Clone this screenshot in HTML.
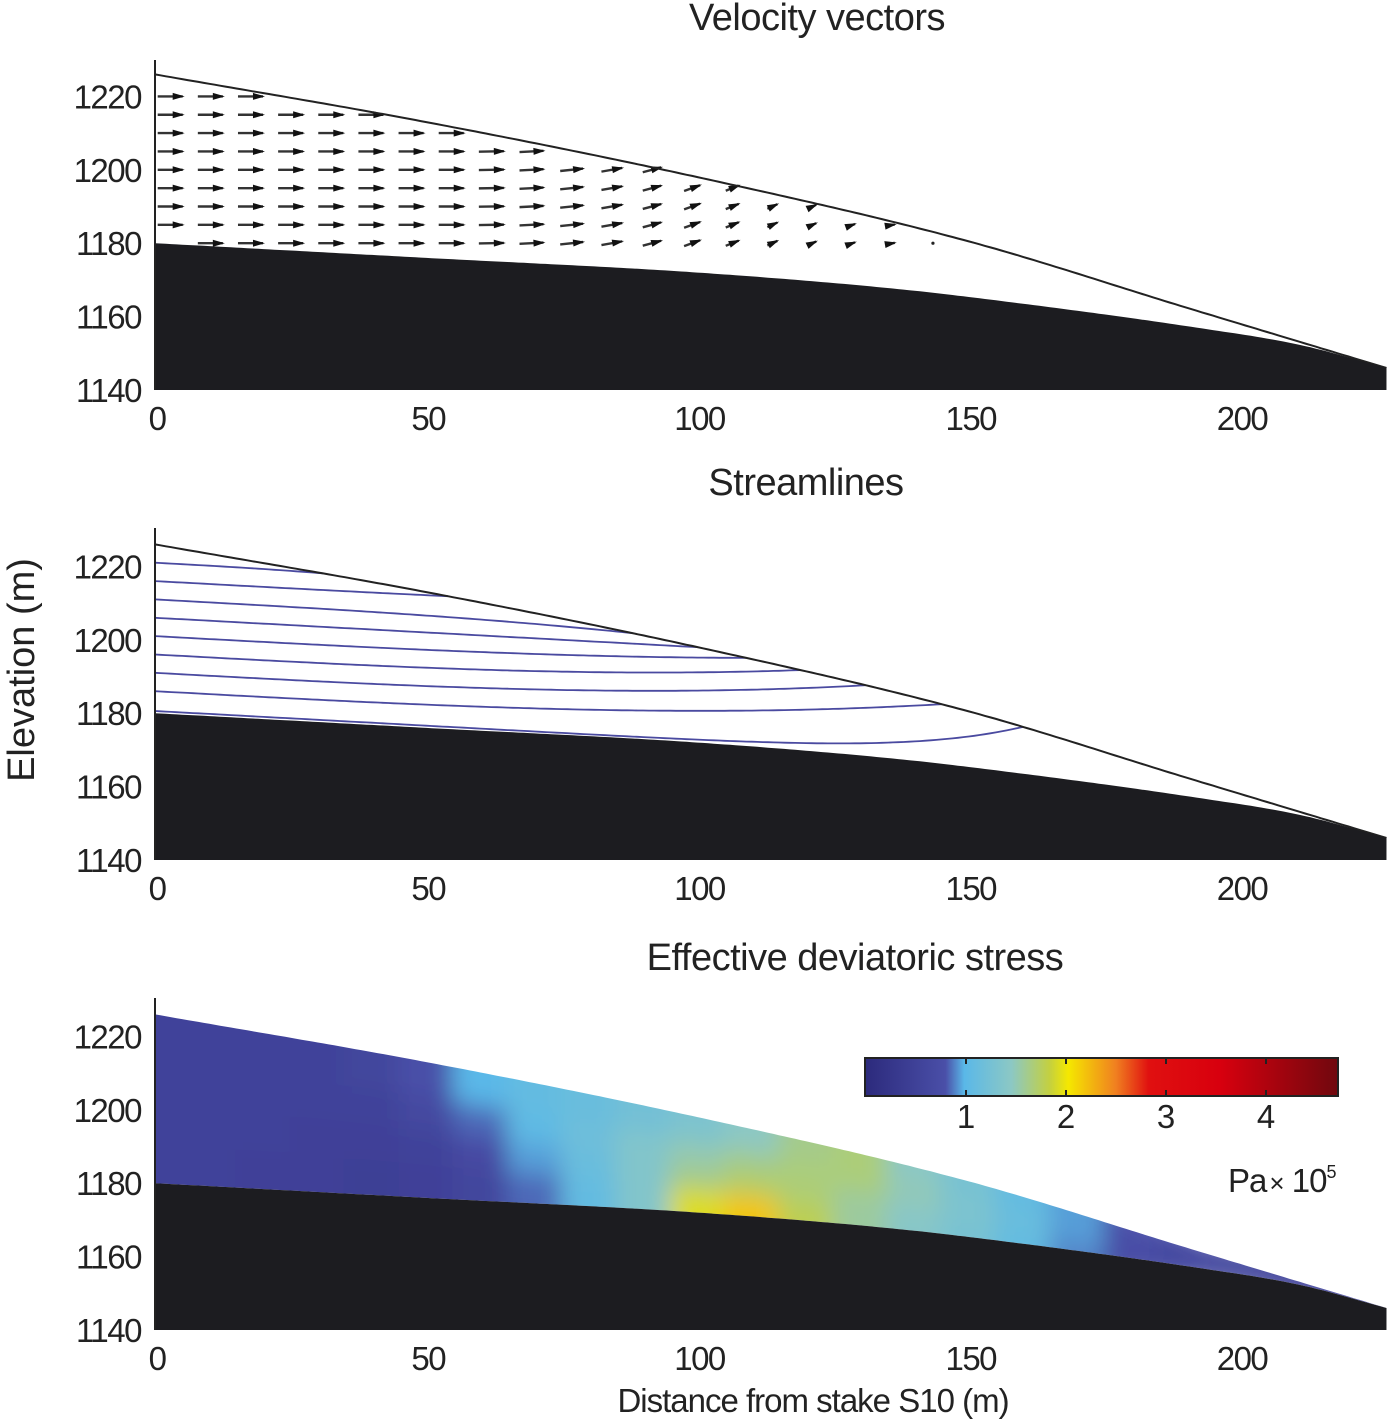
<!DOCTYPE html>
<html><head><meta charset="utf-8"><style>
body{margin:0;background:#fff}
svg text{font-family:"Liberation Sans",sans-serif;fill:#222}
</style></head><body>
<svg id="fig" width="1400" height="1421" viewBox="0 0 1400 1421" xmlns="http://www.w3.org/2000/svg">
<defs>
<filter id="blur" x="-5%" y="-30%" width="110%" height="160%"><feGaussianBlur stdDeviation="12"/></filter>
<linearGradient id="cbar" x1="0" x2="1" y1="0" y2="0">
<stop offset="0" stop-color="#2c2a7c"/><stop offset="0.17" stop-color="#4a4fa8"/><stop offset="0.21" stop-color="#5ab8e8"/>
<stop offset="0.31" stop-color="#8cc8c4"/><stop offset="0.39" stop-color="#c4d040"/><stop offset="0.43" stop-color="#f5e800"/>
<stop offset="0.53" stop-color="#f08020"/><stop offset="0.6" stop-color="#e01010"/><stop offset="0.75" stop-color="#d8000e"/>
<stop offset="1" stop-color="#70080e"/></linearGradient>
</defs>
<g id="root"></g>
</svg>
<script>
const surfX=[0,50,100,150,190,227];
const surfE=[1226,1213,1198,1180.5,1162.5,1146];
const bedX=[0,50,100,137,160,192,211,227];
const bedE=[1180,1176,1172,1167.5,1163.5,1157,1152.3,1146];
const xTicks=[0,50,100,150,200];
const yTicks=[1140,1160,1180,1200,1220];
// velocity vectors: column positions (m), arrow length (px), tilt (deg)
const vecColX=[2.8,10.2,17.6,25,32.4,39.8,47.2,54.6,62,69.4,76.8,84.2,91.6,99,106.4,113.8,121.2,128.6,136,143.4,150.8,158.2,165.6,173,180.4];
const vecLen=[25,25,25,25,25,25,25,25,25,24,23,21,19,17,14,11,8,5,4,3,3,2,2,2,1];
const vecTilt=[0,0,0,0,0,0,0,0,1,3,6,10,15,20,22,25,25,20,10,0,0,0,0,0,0];
const vecRowE=[1180,1185,1190,1195,1200,1205,1210,1215,1220,1225];
// streamlines: start elevation, exit x on surface
const streamStart=[1221,1216,1211,1206,1201,1196,1191,1186,1180.6];
const streamExit=[31,54,88,100,109,119,131,145,160];
// stress field (Pa x 1e5): columns and rows bed->surface
const stressX=[0,10,20,30,40,50,60,70,80,90,100,110,120,130,140,150,160,170,180,190,200,210,220,230,240];
const stressR0=[.55,.55,.5,.5,.45,.5,.6,.85,1.1,1.4,1.95,2.2,1.8,1.6,1.45,1.3,1.1,.9,.75,.65,.6,.55,.55,.55,.55];
const stressR1=[.55,.55,.55,.5,.5,.55,.7,.95,1.15,1.4,1.65,1.75,1.7,1.6,1.5,1.35,1.15,.95,.75,.65,.6,.55,.55,.55,.55];
const stressR2=[.55,.55,.55,.55,.55,.65,.85,1.05,1.2,1.4,1.55,1.65,1.7,1.7,1.55,1.35,1.15,.95,.8,.65,.6,.55,.55,.55,.55];
const stressR3=[.55,.55,.55,.55,.6,.8,1.0,1.1,1.15,1.25,1.35,1.5,1.65,1.7,1.5,1.3,1.1,.95,.8,.65,.6,.55,.55,.55,.55];
const cbTicks=[1,2,3,4];

const NS="http://www.w3.org/2000/svg";
const root=document.getElementById('root');
function mk(tag,attrs,parent){const e=document.createElementNS(NS,tag);for(const k in attrs)e.setAttribute(k,attrs[k]);(parent||root).appendChild(e);return e;}
const X=v=>155+v*5.425;
function mono(xs,ys){const n=xs.length,d=[],m=[];for(let i=0;i<n-1;i++)d.push((ys[i+1]-ys[i])/(xs[i+1]-xs[i]));
  m[0]=d[0];m[n-1]=d[n-2];for(let i=1;i<n-1;i++){m[i]=(d[i-1]*d[i]<=0)?0:(d[i-1]+d[i])/2;}
  return x=>{if(x<=xs[0])return ys[0];if(x>=xs[n-1])return ys[n-1];let i=0;while(x>xs[i+1])i++;const h=xs[i+1]-xs[i],t=(x-xs[i])/h,t2=t*t,t3=t2*t;
    return (2*t3-3*t2+1)*ys[i]+(t3-2*t2+t)*h*m[i]+(-2*t3+3*t2)*ys[i+1]+(t3-t2)*h*m[i+1];};}
const S0=mono(surfX,surfE), B=mono(bedX,bedE);
const S=x=>Math.max(S0(x),B(x));
const XMAX=227;
function panel(base,name){
  const g=mk('g',{});
  
  
  const Y=e=>base-(e-1140)*3.67;
  return {g,Y,base};
}
function samples(f){const a=[];for(let x=0;x<=XMAX;x+=1)a.push([x,f(x)]);return a;}
function drawBed(p){
  let d='M'+X(0)+','+p.base;samples(B).forEach(([x,e])=>d+=' L'+X(x).toFixed(1)+','+p.Y(e).toFixed(1));
  d+=' L'+X(XMAX)+','+p.base+' Z';
  const b=mk('path',{d:d,fill:'#1c1c20'},p.g);
  
  
}
function drawSurf(p){
  let d='';samples(S).forEach(([x,e],i)=>d+=(i?' L':'M')+X(x).toFixed(1)+','+p.Y(e).toFixed(1));
  const s=mk('path',{d:d,fill:'none',stroke:'#222','stroke-width':2},p.g);
  
  
}
function drawAxes(p,top){
  const a=mk('line',{x1:155,x2:155,y1:top,y2:p.base,stroke:'#222','stroke-width':2},p.g);
  
  
  yTicks.forEach(t=>{
    const tx=mk('text',{x:141,y:p.Y(t)+12,'font-size':33,'text-anchor':'end','letter-spacing':'-1.5'},p.g);
    tx.textContent=t;
    
    
  });
  xTicks.forEach(t=>{
    const tx=mk('text',{x:X(t)+2,y:p.base+40,'font-size':33,'text-anchor':'middle','letter-spacing':'-1.5'},p.g);
    tx.textContent=t;
    
    
  });
}
function title(txt,x,y){const t=mk('text',{x:x,y:y,'font-size':38,'text-anchor':'middle','letter-spacing':'-0.5'});t.textContent=txt;
  
  }

// Panel 1
const p1=panel(390,'velocity-panel');
vecColX.forEach((cx,i)=>{
  vecRowE.forEach(re=>{
    if(re<=B(cx)+0.3||re>=S(cx)-0.5)return;
    const L=vecLen[i],a=vecTilt[i]*Math.PI/180;
    const x0=X(cx),y0=p1.Y(re);
    const dx=L*Math.cos(a),dy=-L*Math.sin(a);
    const ar=mk('g',{},p1.g);
    
    
    if(L<=3){mk('circle',{cx:x0,cy:y0,r:1.6,fill:'#222'},ar);return;}
    mk('line',{x1:x0-dx/2,y1:y0-dy/2,x2:x0+dx/2,y2:y0+dy/2,stroke:'#333','stroke-width':2.4},ar);
    const hx=x0+dx/2,hy=y0+dy/2,ux=dx/L,uy=dy/L;
    mk('path',{d:`M${hx+ux*2},${hy+uy*2} L${hx-ux*10-uy*3.5},${hy-uy*10+ux*3.5} L${hx-ux*10+uy*3.5},${hy-uy*10-ux*3.5} Z`,fill:'#111'},ar);
  });
});
drawSurf(p1);drawBed(p1);drawAxes(p1,60);
title('Velocity vectors',817,30);

// Panel 2
const p2=panel(860,'streamline-panel');
streamStart.forEach((e0,i)=>{
  const xe=streamExit[i],k=0.08,pw=(i==streamStart.length-1)?8:3;
  let d='';
  for(let x=0;x<=xe;x+=1){
    let lin=e0-k*x;
    let e=lin+(S(xe)-(e0-k*xe))*Math.pow(x/xe,pw);
    e=Math.max(e,B(x)+0.2);e=Math.min(e,S(x));
    d+=(x?' L':'M')+X(x).toFixed(1)+','+p2.Y(e).toFixed(1);
  }
  const s=mk('path',{d:d,fill:'none',stroke:'#4a4aa0','stroke-width':1.8},p2.g);
  
  
});
drawSurf(p2);drawBed(p2);drawAxes(p2,528);
title('Streamlines',806,495);

// Panel 3
const p3=panel(1330,'stress-panel');
const cmapV=[0,0.8,1.0,1.5,1.85,2.05,2.5,2.9,3.5,4.72];
const cmapC=[[44,42,124],[74,79,168],[90,184,232],[140,200,196],[196,208,64],[245,232,0],[240,128,32],[224,16,16],[216,0,14],[112,8,14]];
function cmap(v){for(let i=1;i<cmapV.length;i++){if(v<=cmapV[i]){const t=Math.max(0,(v-cmapV[i-1])/(cmapV[i]-cmapV[i-1]));const c=cmapC[i-1].map((a,j)=>Math.round(a+t*(cmapC[i][j]-a)));return `rgb(${c})`;}}return 'rgb(112,8,14)';}
let clipD='';samples(S).forEach(([x,e],i)=>clipD+=(i?' L':'M')+X(x).toFixed(1)+','+p3.Y(e).toFixed(1));
samples(B).reverse().forEach(([x,e])=>clipD+=' L'+X(x).toFixed(1)+','+p3.Y(e).toFixed(1));clipD+=' Z';
const cp=mk('clipPath',{id:'iceclip'},p3.g);mk('path',{d:clipD},cp);
const hm=mk('g',{'clip-path':'url(#iceclip)'},p3.g);


const hmIn=mk('g',{filter:'url(#blur)'},hm);
const rows=[stressR0,stressR1,stressR2,stressR3];
const fr=[-0.8,0.25,0.5,0.75,1.8];
for(let r=0;r<4;r++){
  for(let c=0;c<stressX.length;c++){
    const xa=stressX[c]-5,xb=stressX[c]+5;
    const pts=[[xa,fr[r]],[xb,fr[r]],[xb,fr[r+1]],[xa,fr[r+1]]].map(([x,f])=>{const xx=Math.min(Math.max(x,-10),250);const xc=Math.min(Math.max(xx,0),XMAX);const e=B(xc)+f*Math.max(S(xc)-B(xc),4);return X(xx).toFixed(1)+','+p3.Y(e).toFixed(1);});
    const cell=mk('polygon',{points:pts.join(' '),fill:cmap(rows[r][c]),stroke:cmap(rows[r][c]),'stroke-width':2},hmIn);
    
    
  }
}
drawBed(p3);drawAxes(p3,998);
title('Effective deviatoric stress',855,970);
// colorbar
const cb=mk('g',{});


const CB0=866,CBU=100;
mk('rect',{x:865,y:1058,width:473,height:38,fill:'url(#cbar)',stroke:'#222','stroke-width':2},cb);
cbTicks.forEach(t=>{
  const x=CB0+t*CBU;
  mk('line',{x1:x,x2:x,y1:1058,y2:1064,stroke:'#222','stroke-width':2},cb);
  mk('line',{x1:x,x2:x,y1:1090,y2:1096,stroke:'#222','stroke-width':2},cb);
  const tx=mk('text',{x:x,y:1128,'font-size':33,'text-anchor':'middle'},cb);tx.textContent=t;
  
  
});
const un=mk('text',{x:1228,y:1192,'font-size':33,'letter-spacing':'-1'},cb);
un.innerHTML='Pa<tspan font-size="26" dx="3">×</tspan> 10<tspan font-size="18" dy="-14">5</tspan>';



const yl=mk('text',{x:0,y:0,'font-size':38,'text-anchor':'middle',transform:'translate(34,670) rotate(-90)'});yl.textContent='Elevation (m)';


const xl=mk('text',{x:813,y:1412,'font-size':33,'text-anchor':'middle','letter-spacing':'-1'});xl.textContent='Distance from stake S10 (m)';


</script>
</body></html>
